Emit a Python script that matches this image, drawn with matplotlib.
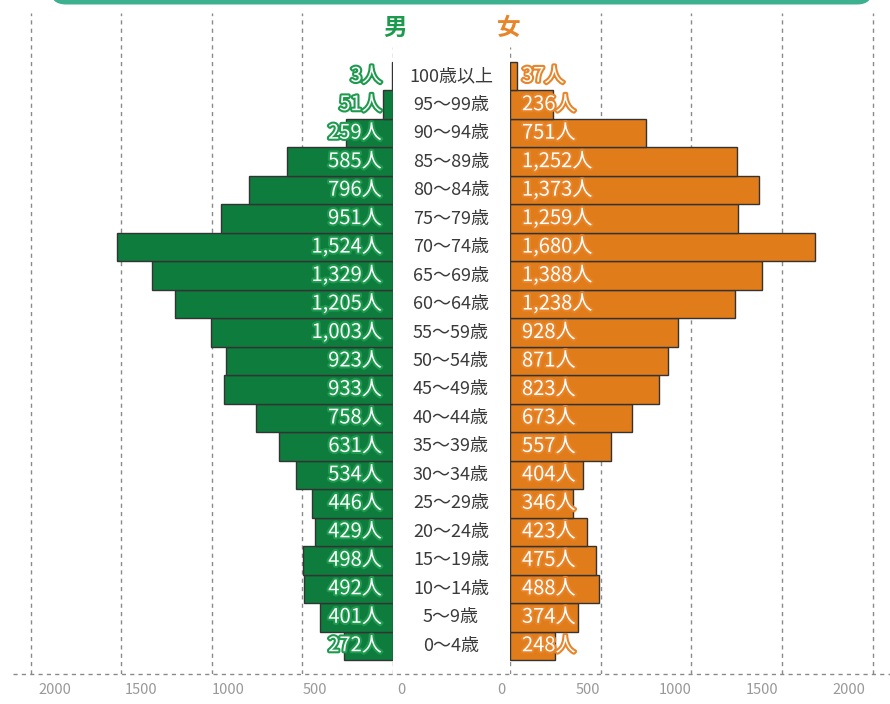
import numpy as np
import matplotlib
matplotlib.use("Agg")
import matplotlib.pyplot as plt
import matplotlib.patheffects as pe
import matplotlib.transforms as mtrans
from matplotlib.patches import FancyBboxPatch
from matplotlib.lines import Line2D

plt.rcParams['font.family'] = ['Noto Sans CJK JP', 'DejaVu Sans']

# age groups, youngest first (bottom of the pyramid)
ages = ["0～4歳", "5～9歳", "10～14歳", "15～19歳", "20～24歳", "25～29歳",
        "30～34歳", "35～39歳", "40～44歳", "45～49歳", "50～54歳", "55～59歳",
        "60～64歳", "65～69歳", "70～74歳", "75～79歳", "80～84歳", "85～89歳",
        "90～94歳", "95～99歳", "100歳以上"]
male = [272, 401, 492, 498, 429, 446, 534, 631, 758, 933, 923, 1003,
        1205, 1329, 1524, 951, 796, 585, 259, 51, 3]
female = [248, 374, 488, 475, 423, 346, 404, 557, 673, 823, 871, 928,
          1238, 1388, 1680, 1259, 1373, 1252, 751, 236, 37]
ticks = [0, 500, 1000, 1500, 2000]

GREEN = "#0e7c3d"
GREEN_TXT = "#1d9a4e"
ORANGE = "#e07c1a"
ORANGE_TXT = "#e8852a"
GRID = "#8a8a8a"

W, H = 890, 704
fig = plt.figure(figsize=(W / 100, H / 100), dpi=100)

# background overlay in pixel coords (banner + bottom dotted line)
bg = fig.add_axes([0, 0, 1, 1], zorder=0)
bg.set_xlim(0, W)
bg.set_ylim(H, 0)
bg.axis("off")
bg.add_patch(FancyBboxPatch((50, -30), 823, 34.5,
                            boxstyle="round,pad=0,rounding_size=16",
                            fc="#3db08f", ec="none"))
bg.add_line(Line2D([13, W], [674, 674], color=GRID, lw=1, ls=(0, (3, 3))))

top_px, bot_px = 13, 674
ax_b = (H - bot_px) / H
ax_h = (bot_px - top_px) / H
axL = fig.add_axes([13 / W, ax_b, (392.7 - 13) / W, ax_h], zorder=1)
axR = fig.add_axes([510 / W, ax_b, 380 / W, ax_h], zorder=1)

y = np.arange(len(ages))
ylo, yhi = -0.992, 22.22

for ax, vals, col, stroke, xmax in [(axL, male, GREEN, GREEN_TXT, 2100),
                                    (axR, female, ORANGE, ORANGE_TXT, 2094)]:
    ax.patch.set_alpha(0)
    ax.barh(y, vals, height=1.0, color=col, edgecolor="#333333", lw=1, zorder=3)
    ax.set_ylim(ylo, yhi)
    if ax is axL:
        ax.set_xlim(xmax, 0)
    else:
        ax.set_xlim(0, xmax)
    for t in ticks:
        top = 1.0 if t else (21.03 - ylo) / (yhi - ylo)
        ax.axvline(t, ymin=0, ymax=top, color=GRID, lw=1, ls=(0, (3, 3)), zorder=1)
    for s in ax.spines.values():
        s.set_visible(False)
    ax.set_xticks([])
    ax.set_yticks([])

    # tick labels sit a bit inward of the grid lines
    tr = mtrans.blended_transform_factory(ax.transData, ax.transAxes)
    for t in ticks:
        ax.text(t * 0.96 - 50, -16 / (bot_px - top_px), str(t), transform=tr,
                ha="center", va="center", fontsize=10.5, color="#999999",
                clip_on=False)

    # value labels
    for yi, v in zip(y, vals):
        if ax is axL:
            ax.text(60, yi, f"{v:,}人", ha="right", va="center", fontsize=14.5,
                    color="white", zorder=5,
                    path_effects=[pe.withStroke(linewidth=3, foreground=stroke)])
        else:
            ax.text(66, yi, f"{v:,}人", ha="left", va="center", fontsize=14.5,
                    color="white", zorder=5,
                    path_effects=[pe.withStroke(linewidth=3, foreground=stroke)])

# age labels in the middle column
trc = mtrans.blended_transform_factory(fig.transFigure, axL.transData)
for yi, a in zip(y, ages):
    fig.text(451 / W, yi, a, transform=trc, ha="center", va="center",
             fontsize=13, color="#3a3a3a")

fig.text(395 / W, 1 - 28 / H, "男", ha="center", va="center", fontsize=17,
         fontweight="bold", color=GREEN_TXT)
fig.text(509 / W, 1 - 28 / H, "女", ha="center", va="center", fontsize=17,
         fontweight="bold", color=ORANGE_TXT)

fig.savefig("out.png", dpi=100)
